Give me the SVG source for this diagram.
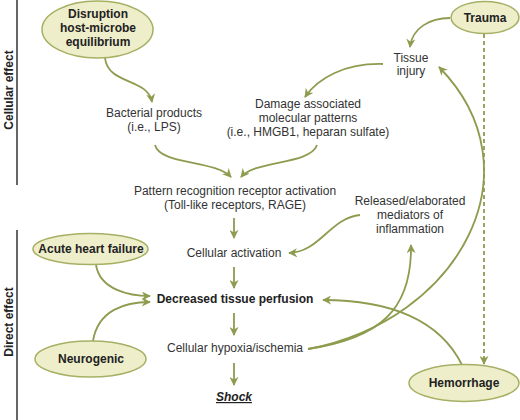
<svg xmlns="http://www.w3.org/2000/svg" width="520" height="420" viewBox="0 0 520 420">
<style>
text{font-family:"Liberation Sans",Arial,sans-serif;font-size:12px;fill:#333;text-anchor:middle}
.b{font-weight:bold;fill:#222}
.node ellipse{fill:#efeecb;stroke:#a6b064;stroke-width:1.5}
.c path{fill:none;stroke:#8d9c4f;stroke-width:1.8}
.side{stroke:#333;stroke-width:1.5}
</style>
<defs>
<marker id="ah" viewBox="0 0 10 10" refX="9" refY="5" markerWidth="9" markerHeight="9" markerUnits="userSpaceOnUse" orient="auto">
<path d="M0,0 L10,5 L0,10 L3,5 Z" fill="#8d9c4f"/>
</marker>
</defs>
<g id="side">
<line class="side" x1="17" y1="0" x2="17" y2="185"/>
<line class="side" x1="17" y1="230" x2="17" y2="420"/>
<text class="b" transform="translate(13,90) rotate(-90)">Cellular effect</text>
<text class="b" transform="translate(13,322) rotate(-90)">Direct effect</text>
</g>
<g class="c" id="connectors">
<path d="M105,58 C108,85 148,78 152,102" marker-end="url(#ah)"/>
<path d="M450,18 C430,18 412,28 410,47" marker-end="url(#ah)"/>
<path d="M383,64 C345,63 318,78 305,97" marker-end="url(#ah)"/>
<path d="M155,145 C160,165 215,160 231,177" marker-end="url(#ah)"/>
<path d="M317,145 C310,165 255,160 241,177" marker-end="url(#ah)"/>
<path d="M234,218 L234,238" marker-end="url(#ah)"/>
<path d="M360,215 C330,218 320,252 289,253" marker-end="url(#ah)"/>
<path d="M234,267 L234,288" marker-end="url(#ah)"/>
<path d="M96,265 C100,290 130,296 150,296" marker-end="url(#ah)"/>
<path d="M93,341 C98,310 125,302 150,302" marker-end="url(#ah)"/>
<path d="M462,365 C440,320 390,300 323,300" marker-end="url(#ah)"/>
<path d="M234,313 L234,335" marker-end="url(#ah)"/>
<path d="M308,349 C380,338 412,310 411,245" marker-end="url(#ah)"/>
<path d="M308,349 C460,320 540,170 439,67" marker-end="url(#ah)"/>
<path d="M234,363 L234,385" marker-end="url(#ah)"/>
<path d="M484,34 L484,364" stroke-dasharray="4,3" marker-end="url(#ah)"/>
</g>
<g id="disruption" class="node">
<ellipse cx="97.5" cy="29.5" rx="55.5" ry="28.5"/>
<text class="b" x="98" y="18">Disruption</text>
<text class="b" x="98" y="32">host-microbe</text>
<text class="b" x="98" y="46">equilibrium</text>
</g>
<g id="trauma" class="node">
<ellipse cx="485" cy="17.5" rx="34" ry="16"/>
<text class="b" x="485" y="22">Trauma</text>
</g>
<g id="tissue">
<text x="411" y="62">Tissue</text>
<text x="411" y="75">injury</text>
</g>
<g id="bacterial">
<text x="154" y="117">Bacterial products</text>
<text x="154" y="131">(i.e., LPS)</text>
</g>
<g id="damp">
<text x="308" y="108">Damage associated</text>
<text x="308" y="122">molecular patterns</text>
<text x="308" y="136">(i.e., HMGB1, heparan sulfate)</text>
</g>
<g id="prr">
<text x="235" y="195">Pattern recognition receptor activation</text>
<text x="235" y="209">(Toll-like receptors, RAGE)</text>
</g>
<g id="mediators">
<text x="410" y="205">Released/elaborated</text>
<text x="410" y="219">mediators of</text>
<text x="410" y="233">inflammation</text>
</g>
<g id="cellact">
<text x="234" y="257">Cellular activation</text>
</g>
<g id="ahf" class="node">
<ellipse cx="90.5" cy="249" rx="57.5" ry="15.5"/>
<text class="b" x="91" y="253">Acute heart failure</text>
</g>
<g id="dtp">
<text class="b" x="235" y="303">Decreased tissue perfusion</text>
</g>
<g id="neuro" class="node">
<ellipse cx="90.5" cy="359" rx="55.5" ry="18"/>
<text class="b" x="91" y="363">Neurogenic</text>
</g>
<g id="hypoxia">
<text x="235" y="352">Cellular hypoxia/ischemia</text>
</g>
<g id="hemorrhage" class="node">
<ellipse cx="464" cy="383" rx="55" ry="18.5"/>
<text class="b" x="464" y="387">Hemorrhage</text>
</g>
<g id="shock">
<text class="b" x="234" y="401" font-style="italic" text-decoration="underline">Shock</text>
</g>
</svg>
